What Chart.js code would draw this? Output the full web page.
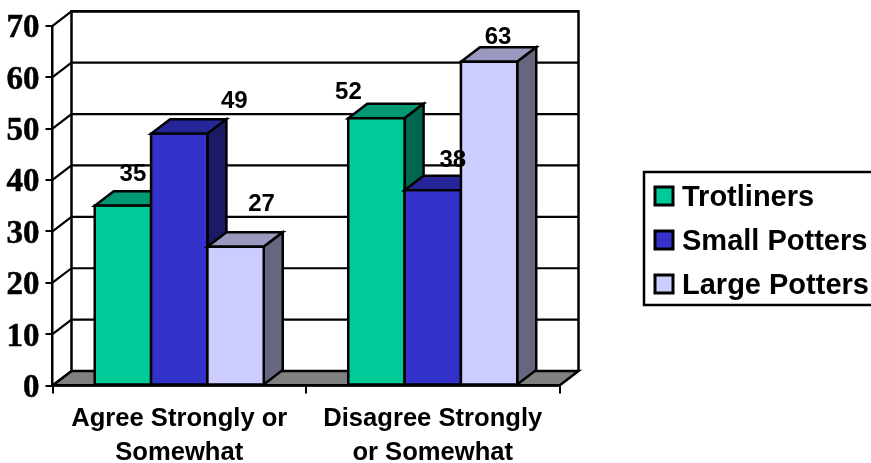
<!DOCTYPE html>
<html>
<head>
<meta charset="utf-8">
<style>
html, body { margin: 0; padding: 0; background: #fff; overflow: hidden; }
canvas { display: block; }
</style>
<script src="https://cdn.jsdelivr.net/npm/chart.js@4/dist/chart.umd.min.js"></script>
</head>
<body>
<canvas id="chart" width="871" height="463"></canvas>
<script>
const categories = [['Agree Strongly or', 'Somewhat'], ['Disagree Strongly', 'or Somewhat']];
const trotliners = [35, 52];
const smallPotters = [49, 38];
const largePotters = [27, 63];
const yTicks = [0, 10, 20, 30, 40, 50, 60, 70];

const DEPTH_X = 19;
const DEPTH_Y = 14.5;
const LINE = 2.5;
const SANS = '"Liberation Sans", Arial, sans-serif';

function poly(ctx, pts, fill) {
    ctx.beginPath();
    pts.forEach((p, i) => i ? ctx.lineTo(p[0], p[1]) : ctx.moveTo(p[0], p[1]));
    ctx.closePath();
    if (fill) {
        ctx.fillStyle = fill;
        ctx.fill();
    }
    ctx.stroke();
}

// back wall, left wall and floor of the box
const boxPlugin = {
    id: 'box',
    beforeDraw(chart) {
        const ctx = chart.ctx;
        const { left, right, top, bottom } = chart.chartArea;
        const y = chart.scales.y;
        ctx.save();
        ctx.strokeStyle = '#000';
        ctx.lineWidth = LINE;
        poly(ctx, [
            [left, bottom], [right, bottom],
            [right + DEPTH_X, bottom - DEPTH_Y], [left + DEPTH_X, bottom - DEPTH_Y]
        ], '#808080');
        ctx.lineWidth = 2.2;
        yTicks.forEach(v => {
            const py = y.getPixelForValue(v);
            ctx.beginPath();
            ctx.moveTo(left, py);
            ctx.lineTo(left + DEPTH_X, py - DEPTH_Y);
            if (v > 0) ctx.lineTo(right + DEPTH_X, py - DEPTH_Y);
            ctx.stroke();
        });
        ctx.lineWidth = LINE;
        ctx.beginPath();
        ctx.moveTo(left + DEPTH_X, bottom - DEPTH_Y);
        ctx.lineTo(left + DEPTH_X, top - DEPTH_Y);
        ctx.lineTo(right + DEPTH_X, top - DEPTH_Y);
        ctx.lineTo(right + DEPTH_X, bottom - DEPTH_Y);
        ctx.stroke();
        ctx.restore();
    }
};

// bars go left to right, each with its top and side faces behind the front
const barsPlugin = {
    id: 'bars3d',
    beforeDatasetsDraw(chart) {
        const ctx = chart.ctx;
        chart.data.datasets.forEach((ds, i) => {
            chart.getDatasetMeta(i).data.forEach(bar => {
                const l = bar.x - bar.width / 2;
                const r = bar.x + bar.width / 2;
                ctx.save();
                ctx.strokeStyle = '#000';
                ctx.lineWidth = LINE;
                poly(ctx, [
                    [l, bar.y], [r, bar.y],
                    [r + DEPTH_X, bar.y - DEPTH_Y], [l + DEPTH_X, bar.y - DEPTH_Y]
                ], ds.topColor);
                poly(ctx, [
                    [r, bar.y], [r + DEPTH_X, bar.y - DEPTH_Y],
                    [r + DEPTH_X, bar.base - DEPTH_Y], [r, bar.base]
                ], ds.sideColor);
                bar.draw(ctx);
                // outline sits on the bar edge so neighbours share one line
                ctx.strokeRect(l, bar.y, bar.width, bar.base - bar.y);
                ctx.restore();
            });
        });
        return false;
    }
};

// value labels and legend go on top of everything
const overlayPlugin = {
    id: 'overlay',
    afterDraw(chart, args, opts) {
        const ctx = chart.ctx;
        ctx.save();
        ctx.fillStyle = '#000';
        ctx.textAlign = 'center';
        ctx.textBaseline = 'middle';
        ctx.font = 'bold 24px ' + SANS;
        chart.data.datasets.forEach((ds, i) => {
            chart.getDatasetMeta(i).data.forEach((bar, j) => {
                const off = opts.labelOffsets[i][j];
                ctx.fillText(String(ds.data[j]), bar.x + off[0], bar.y + off[1]);
            });
        });

        ctx.strokeStyle = '#000';
        ctx.lineWidth = LINE;
        ctx.strokeRect(644, 172, 240, 133);
        ctx.textAlign = 'left';
        ctx.font = 'bold 29px ' + SANS;
        chart.data.datasets.forEach((ds, i) => {
            const cy = 196 + i * 44;
            ctx.fillStyle = ds.backgroundColor;
            ctx.fillRect(655, cy - 9, 18, 18);
            ctx.lineWidth = 3;
            ctx.strokeRect(655, cy - 9, 18, 18);
            ctx.fillStyle = '#000';
            ctx.fillText(ds.label, 682, cy + 2);
        });
        ctx.restore();
    }
};

new Chart(document.getElementById('chart').getContext('2d'), {
    type: 'bar',
    data: {
        labels: categories,
        datasets: [
            { label: 'Trotliners', data: trotliners, backgroundColor: '#00CC99', topColor: '#009973', sideColor: '#00664D' },
            { label: 'Small Potters', data: smallPotters, backgroundColor: '#3333CC', topColor: '#262699', sideColor: '#1A1A66' },
            { label: 'Large Potters', data: largePotters, backgroundColor: '#CCCCFF', topColor: '#9999BF', sideColor: '#666680' }
        ]
    },
    options: {
        responsive: false,
        animation: false,
        layout: { padding: { left: 0, top: 25, right: 311.5, bottom: 0 } },
        datasets: {
            bar: {
                barPercentage: 1,
                categoryPercentage: 2 / 3,
                borderWidth: 0
            }
        },
        plugins: {
            legend: { display: false },
            tooltip: { enabled: false },
            overlay: {
                labelOffsets: [
                    [[10, -31], [-28, -26]],
                    [[55, -32], [20, -30]],
                    [[26, -42], [9, -24]]
                ]
            }
        },
        scales: {
            x: {
                afterFit(scale) { scale.height = 77.5; },
                border: { color: '#000', width: LINE },
                grid: { drawOnChartArea: false, color: '#000', lineWidth: 2, tickLength: 8 },
                ticks: {
                    color: '#000',
                    padding: 8,
                    maxRotation: 0,
                    autoSkip: false,
                    font: { family: SANS, size: 25.6, weight: 'bold', lineHeight: 1.33 }
                }
            },
            y: {
                min: 0,
                max: 70,
                afterFit(scale) { scale.width = 52.5; },
                afterBuildTicks(scale) { scale.ticks = yTicks.map(v => ({ value: v })); },
                border: { color: '#000', width: LINE },
                grid: { drawOnChartArea: false, color: '#000', lineWidth: 2, tickLength: 7 },
                ticks: {
                    color: '#000',
                    padding: 6,
                    labelOffset: 3,
                    textStrokeColor: '#000',
                    textStrokeWidth: 0.5,
                    font: { family: '"Liberation Serif", "Times New Roman", serif', size: 33, weight: 'bold' }
                }
            }
        }
    },
    plugins: [boxPlugin, barsPlugin, overlayPlugin]
});
</script>
</body>
</html>
